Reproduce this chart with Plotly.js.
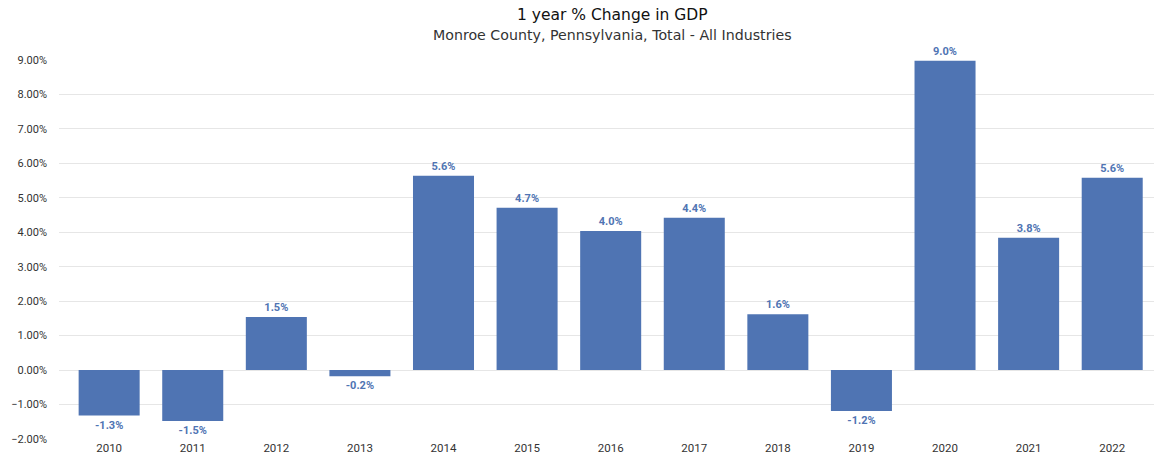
<!DOCTYPE html>
<html>
<head>
<meta charset="utf-8">
<script src="https://cdn.plot.ly/plotly-3.0.1.min.js"></script>
<style>html,body{margin:0;padding:0;background:#fff;}#chart{width:1154px;height:458px;}</style>
</head>
<body>
<div id="chart"></div>
<script>
const years = ['2010','2011','2012','2013','2014','2015','2016','2017','2018','2019','2020','2021','2022'];
const pctChange = [-1.32, -1.48, 1.54, -0.18, 5.64, 4.71, 4.04, 4.42, 1.62, -1.19, 8.98, 3.84, 5.58];
const titleText = '1 year % Change in GDP';
const subtitleText = 'Monroe County, Pennsylvania, Total - All Industries';

const trace = {
  type: 'bar',
  x: years,
  y: pctChange,
  marker: {color: '#4f74b3'},
  texttemplate: '%{y:.1f}%',
  textposition: 'outside',
  cliponaxis: false,
  textfont: {family: 'Roboto, sans-serif', size: 11, color: '#4f74b3', weight: 'bold'},
  hoverinfo: 'none'
};

const layout = {
  width: 1154, height: 458,
  margin: {l: 59, r: 0, t: 60, b: 19},
  paper_bgcolor: '#fff', plot_bgcolor: '#fff',
  font: {family: 'Roboto, sans-serif', size: 11, color: '#333'},
  showlegend: false,
  bargap: 0.27,
  annotations: [{
    text: titleText,
    xref: 'paper', yref: 'paper',
    x: (612 - 59) / 1095, y: 1 + (60 - 15) / 379,
    xanchor: 'center', yanchor: 'middle',
    showarrow: false,
    font: {family: '"DejaVu Sans", sans-serif', size: 15.5, color: '#111'}
  }, {
    text: subtitleText,
    xref: 'paper', yref: 'paper',
    x: (612 - 59) / 1095, y: 1 + (60 - 35) / 379,
    xanchor: 'center', yanchor: 'middle',
    showarrow: false,
    font: {family: '"DejaVu Sans", sans-serif', size: 14.2, color: '#333'}
  }],
  xaxis: {
    type: 'category',
    range: [-0.6, 12.5],
    showgrid: false, showline: false, zeroline: false,
    ticks: '', tickfont: {size: 11.5, color: '#333'}
  },
  yaxis: {
    range: [-2, 9],
    dtick: 1,
    tickformat: '.2f',
    ticksuffix: '%',
    showgrid: true, gridcolor: '#e6e6e6', gridwidth: 1,
    zeroline: true, zerolinecolor: '#e6e6e6', zerolinewidth: 1,
    showline: false, ticks: '',
    ticklabelstandoff: 11,
    tickfont: {size: 11, color: '#333'},
    automargin: false
  }
};

Plotly.newPlot('chart', [trace], layout, {displayModeBar: false, staticPlot: true});
</script>
</body>
</html>
